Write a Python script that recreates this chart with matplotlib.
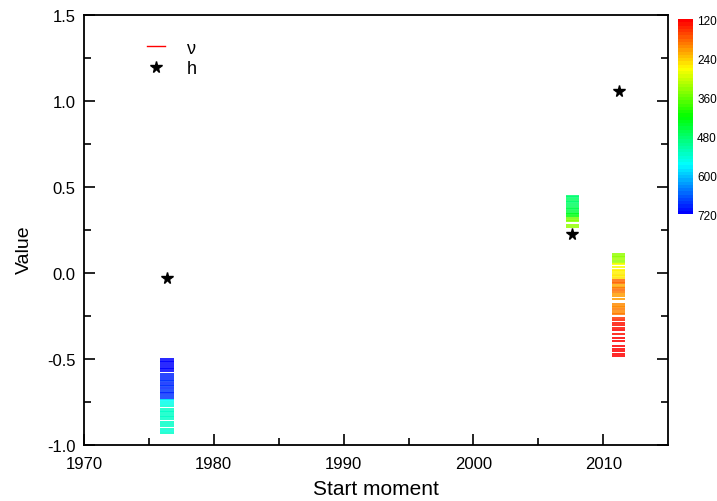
import matplotlib
matplotlib.use("Agg")
import matplotlib.pyplot as plt
import numpy as np
from matplotlib.colors import ListedColormap, Normalize, hsv_to_rgb
from matplotlib.lines import Line2D

plt.rcParams["font.family"] = ["Liberation Sans", "DejaVu Sans"]

# cluster 1 (1976)
x1 = 1976.4
nu1_y = [-0.50, -0.51, -0.52, -0.53, -0.54, -0.55, -0.56, -0.57,
         -0.59, -0.60, -0.61, -0.62, -0.63, -0.64, -0.65, -0.66, -0.67, -0.68,
         -0.69, -0.70, -0.71, -0.72, -0.73,
         -0.74, -0.75, -0.76, -0.775, -0.79, -0.80, -0.81, -0.82, -0.83, -0.84,
         -0.85, -0.865, -0.88, -0.89, -0.905, -0.92, -0.93]
nu1_c = [718, 716, 720, 715, 712, 718, 714, 710,
         695, 690, 698, 692, 688, 694, 690, 686, 692, 688,
         684, 690, 686, 682, 688,
         560, 556, 550, 540, 536, 532, 538, 534, 530, 536,
         532, 538, 534, 530, 536, 540, 534]
h1 = -0.03

# cluster 2 (2007)
x2 = 2007.6
nu2_y = [0.45, 0.44, 0.43, 0.42, 0.41, 0.40, 0.39, 0.38, 0.37, 0.36, 0.35,
         0.34, 0.33, 0.32, 0.31, 0.30, 0.28, 0.27]
nu2_c = [480, 482, 478, 476, 480, 474, 470, 466, 462, 458, 450,
         430, 420, 350, 345, 340, 335, 330]
h2 = 0.225

# cluster 3 (2011)
x3 = 2011.2
nu3_y = [0.11, 0.10, 0.09, 0.08, 0.07, 0.06, 0.05, 0.035,
         0.02, 0.01, 0.0, -0.01, -0.02, -0.03,
         -0.04, -0.05, -0.06, -0.07, -0.08, -0.09, -0.10, -0.11,
         -0.12, -0.135, -0.15, -0.18, -0.19, -0.20, -0.21, -0.22, -0.23, -0.24,
         -0.26, -0.273, -0.291, -0.304, -0.318, -0.333, -0.356, -0.376, -0.395,
         -0.426, -0.440, -0.453, -0.469, -0.483]
nu3_c = [335, 332, 330, 328, 330, 326, 275, 270,
         262, 260, 264, 258, 262, 256,
         185, 180, 182, 222, 218, 192, 188, 190,
         215, 212, 210, 204, 200, 202, 198, 204, 200, 196,
         150, 145, 135, 132, 130, 128, 130, 126, 128,
         125, 128, 124, 126, 122]
h3 = 1.06

cbar_ticks = [120, 240, 360, 480, 600, 720]

# rainbow: red (hue 0) -> blue (hue 240)
hues = np.linspace(0, 2 / 3, 60)
cmap = ListedColormap(hsv_to_rgb(np.stack([hues, np.ones_like(hues), np.ones_like(hues)], axis=1)))
norm = Normalize(120, 720)

fig = plt.figure(figsize=(7.17, 5.02), dpi=100)
ax = fig.add_axes([0.117, 0.1116, 0.815, 0.8566])

for xc, ys, cs in [(x1, nu1_y, nu1_c), (x2, nu2_y, nu2_c), (x3, nu3_y, nu3_c)]:
    sc = ax.scatter(np.full(len(ys), xc), ys, c=cs, cmap=cmap, norm=norm,
                    marker="_", s=90, linewidths=1.2)

ax.plot([x1, x2, x3], [h1, h2, h3], linestyle="none", marker="*",
        color="black", markersize=8.5)

ax.set_xlim(1970, 2015)
ax.set_ylim(-1.0, 1.5)
ax.set_xticks([1970, 1980, 1990, 2000, 2010])
ax.set_xticks([1975, 1985, 1995, 2005], minor=True)
ax.set_yticks([-1.0, -0.5, 0.0, 0.5, 1.0, 1.5])
ax.set_yticks([-0.75, -0.25, 0.25, 0.75, 1.25], minor=True)
ax.set_yticklabels(["-1.0", "-0.5", "0.0", "0.5", "1.0", "1.5"])
ax.tick_params(which="both", direction="in", top=False, right=True,
               labelsize=12, width=1.2)
ax.tick_params(axis="x", pad=8)
ax.tick_params(axis="y", pad=6)
ax.tick_params(which="major", length=8)
ax.tick_params(which="minor", length=5)
for sp in ax.spines.values():
    sp.set_linewidth(1.3)
ax.set_xlabel("Start moment", fontsize=15, labelpad=6)
ax.set_ylabel("Value", fontsize=14)
ax.yaxis.set_label_coords(-0.087, 0.456)

handles = [Line2D([], [], color="red", lw=1.0),
           Line2D([], [], linestyle="none", marker="*", color="black", markersize=8.5)]
ax.legend(handles, ["\u03bd", "h"], loc="upper left", bbox_to_anchor=(0.08, 0.98),
          frameon=False, fontsize=13, handlelength=1.0, handletextpad=1.2,
          labelspacing=0.2)

cax = fig.add_axes([0.9456, 0.5717, 0.0209, 0.388])
cb = fig.colorbar(sc, cax=cax, ticks=cbar_ticks)
cb.outline.set_visible(False)
cax.invert_yaxis()
cax.tick_params(length=0, labelsize=8.5, pad=3)

fig.savefig("out.png", dpi=100)
